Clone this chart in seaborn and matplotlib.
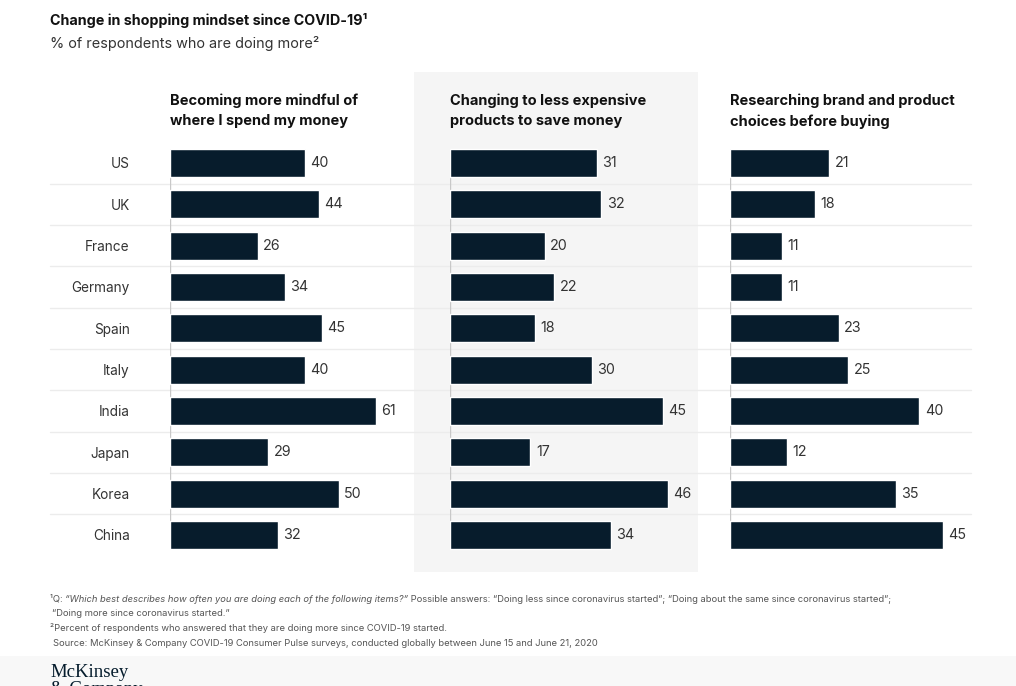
import numpy as np
import pandas as pd
import matplotlib
matplotlib.use('Agg')
import matplotlib.pyplot as plt
from matplotlib.lines import Line2D
from matplotlib.patches import Rectangle
import seaborn as sns

countries = ['US', 'UK', 'France', 'Germany', 'Spain', 'Italy', 'India', 'Japan', 'Korea', 'China']
mindful = [40, 44, 26, 34, 45, 40, 61, 29, 50, 32]
cheaper = [31, 32, 20, 22, 18, 30, 45, 17, 46, 34]
research = [21, 18, 11, 11, 23, 25, 40, 12, 35, 45]
panel_titles = ['Becoming more mindful of\nwhere I spend my money',
                'Changing to less expensive\nproducts to save money',
                'Researching brand and product\nchoices before buying']

sns.set_theme(style = 'white')
plt.rcParams['font.family'] = ['Inter', 'DejaVu Sans']

W, H = 1016, 686
fx = lambda x: x / W
fy = lambda y: 1 - y / H
navy = '#071c2c'

fig = plt.figure(figsize = (W / 100, H / 100), dpi = 100)
fig.patch.set_facecolor('white')

# grey band behind middle panel + bottom strip
fig.add_artist(Rectangle((fx(414), fy(572)), fx(698) - fx(414), fy(72) - fy(572), transform = fig.transFigure,
                         facecolor = '#f5f5f5', edgecolor = 'none', zorder = -3))
fig.add_artist(Rectangle((0, 0), 1, fy(656), transform = fig.transFigure,
                         facecolor = '#f8f8f8', edgecolor = 'none', zorder = -3))

row_h = 41.33
top = 163 - row_h / 2
for i in range(1, 10):
    y = top + i * row_h
    fig.add_artist(Line2D([fx(50), fx(971)], [fy(y), fy(y)], transform = fig.transFigure,
                          color = '#ececec', lw = 1, zorder = -2))

# axes: left px, width px, px per unit
specs = [(170, 225, 3.375), (450, 240, 4.73), (730, 240, 4.73)]
data = [mindful, cheaper, research]
for k, ((left, width, scale), vals, ttl) in enumerate(zip(specs, data, panel_titles)):
    ax = fig.add_axes([fx(left), fy(top + 10 * row_h), width / W, 10 * row_h / H])
    ax.patch.set_alpha(0)
    df = pd.DataFrame({'country': countries, 'value': vals})
    sns.barplot(data = df, x = 'value', y = 'country', color = navy, width = 0.68,
                saturation = 1, ax = ax, orient = 'h')
    ax.bar_label(ax.containers[0], padding = 4, fontsize = 10.3, color = '#333333')
    ax.vlines(0, -0.34, 9.34, color = '#c8c8c8', lw = 1, zorder = 0)
    ax.set_xlim(0, width / scale)
    ax.set_ylim(9.5, -0.5)
    ax.set_xlabel(''); ax.set_ylabel('')
    ax.set_xticks([])
    for s in ax.spines.values():
        s.set_visible(False)
    if k == 0:
        ax.tick_params(axis = 'y', length = 0, pad = 29, labelsize = 9.8, labelcolor = '#333333')
    else:
        ax.set_yticks([])
    fig.text(fx(left), fy(93), ttl, ha = 'left', va = 'top', fontsize = 10.5, fontweight = 'bold',
             color = '#111111', linespacing = 1.6)

fig.text(fx(50), fy(13), 'Change in shopping mindset since COVID-19\u00b9', ha = 'left', va = 'top',
         fontsize = 10.3, fontweight = 'bold', color = '#111111')
fig.text(fx(50), fy(36), '% of respondents who are doing more\u00b2', ha = 'left', va = 'top',
         fontsize = 10.4, color = '#333333')

# footnotes, pieced together so the question can be italic
fig.canvas.draw()
rend = fig.canvas.get_renderer()
def runline(x, y, parts):
    for txt, style in parts:
        t = fig.text(x, y, txt, ha = 'left', va = 'center', fontsize = 6.75, color = '#555555',
                     style = style)
        x += t.get_window_extent(rend).width / W

runline(fx(50), fy(599), [('\u00b9Q: ', 'normal'),
                         ('\u201cWhich best describes how often you are doing each of the following items?\u201d', 'italic'),
                         (' Possible answers: \u201cDoing less since coronavirus started\u201d; \u201cDoing about the same since coronavirus started\u201d;', 'normal')])
runline(fx(52), fy(613), [('\u201cDoing more since coronavirus started.\u201d', 'normal')])
runline(fx(50), fy(628), [('\u00b2Percent of respondents who answered that they are doing more since COVID-19 started.', 'normal')])
runline(fx(53), fy(644), [('Source: McKinsey & Company COVID-19 Consumer Pulse surveys, conducted globally between June 15 and June 21, 2020', 'normal')])

fig.text(fx(50), fy(664), 'McKinsey\n& Company', ha = 'left', va = 'top', fontsize = 13.5,
         family = ['Liberation Serif', 'DejaVu Serif'], color = '#051c2c', linespacing = 1.0)

fig.savefig('out.png', dpi = 100)
